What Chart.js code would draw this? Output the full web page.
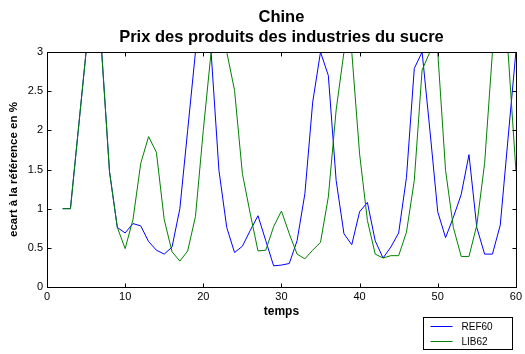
<!DOCTYPE html>
<html>
<head>
<meta charset="utf-8">
<script src="https://cdn.jsdelivr.net/npm/chart.js@4"></script>
<style>
  body { margin: 0; background: #fff; }
  #wrap { position: relative; width: 525px; height: 354px; }
</style>
</head>
<body>
<div id="wrap"><canvas id="graph" width="525" height="354"></canvas></div>
<script>
// pas de temps
var temps = [2, 3, 4, 5, 6, 7, 8, 9, 10, 11, 12, 13, 14, 15, 16, 17, 18, 19, 20, 21,
             22, 23, 24, 25, 26, 27, 28, 29, 30, 31, 32, 33, 34, 35, 36, 37, 38, 39, 40, 41,
             42, 43, 44, 45, 46, 47, 48, 49, 50, 51, 52, 53, 54, 55, 56, 57, 58, 59, 60];

var ref60 = [1.0, 1.0, 2.0, 3, 3, 3, 1.47, 0.76, 0.69, 0.81, 0.78, 0.58, 0.47, 0.42, 0.51, 1.0, 2.0, 3, 3, 3,
             1.49, 0.76, 0.44, 0.52, 0.72, 0.91, 0.59, 0.27, 0.28, 0.30, 0.59, 1.19, 2.36, 3, 2.70, 1.36, 0.68, 0.54, 0.96, 1.08,
             0.59, 0.37, 0.51, 0.69, 1.40, 2.79, 3, 2.0, 0.96, 0.63, 0.89, 1.18, 1.69, 0.76, 0.42, 0.42, 0.79, 1.9, 3];

var lib62 = [1.0, 1.0, 2.0, 3, 3, 3, 1.47, 0.76, 0.49, 0.86, 1.58, 1.92, 1.72, 0.86, 0.45, 0.33, 0.46, 0.9, 2.0, 3,
             3, 3, 2.51, 1.45, 0.94, 0.46, 0.47, 0.77, 0.97, 0.68, 0.42, 0.36, 0.47, 0.57, 1.15, 2.26, 3, 3, 1.7, 0.85,
             0.42, 0.37, 0.40, 0.40, 0.70, 1.36, 2.77, 3, 3, 1.49, 0.76, 0.39, 0.39, 0.79, 1.58, 3, 3, 3, 1.49];

var titres = ['Chine', 'Prix des produits des industries du sucre'];
var xTicks = [0, 10, 20, 30, 40, 50, 60];
var yTicks = [0, 0.5, 1, 1.5, 2, 2.5, 3];

var police = "'Liberation Sans', Arial, sans-serif";

function pts(vals) {
    return temps.map(function (t, i) { return { x: t, y: vals[i] }; });
}

// titre, cadre matlab avec ticks vers l'interieur, legende
var matlabLook = {
    id: 'matlabLook',
    afterDraw: function (chart) {
        var ctx = chart.ctx;
        var a = chart.chartArea;
        var xs = chart.scales.x, ys = chart.scales.y;
        ctx.save();
        ctx.strokeStyle = '#000';
        ctx.lineWidth = 1;
        var L = Math.round(a.left) + 0.5, R = Math.round(a.right) + 0.5;
        var T = Math.round(a.top) + 0.5, B = Math.round(a.bottom) + 0.5;
        ctx.strokeRect(L, T, R - L, B - T);
        var tl = 4;
        ctx.beginPath();
        xTicks.forEach(function (v) {
            var px = Math.round(xs.getPixelForValue(v)) + 0.5;
            ctx.moveTo(px, B); ctx.lineTo(px, B - tl);
            ctx.moveTo(px, T); ctx.lineTo(px, T + tl);
        });
        yTicks.forEach(function (v) {
            var py = Math.round(ys.getPixelForValue(v)) + 0.5;
            ctx.moveTo(L, py); ctx.lineTo(L + tl, py);
            ctx.moveTo(R, py); ctx.lineTo(R - tl, py);
        });
        ctx.stroke();

        // titre
        var cx = (a.left + a.right) / 2;
        ctx.fillStyle = '#000';
        ctx.textAlign = 'center';
        ctx.textBaseline = 'alphabetic';
        ctx.font = 'bold 16.5px ' + police;
        ctx.fillText(titres[0], cx, 21.5);
        ctx.fillText(titres[1], cx, 42);

        // legende
        var lx = 423.5, ly = 317.5, lw = 89, lh = 32;
        ctx.fillStyle = '#fff';
        ctx.fillRect(lx, ly, lw, lh);
        ctx.strokeRect(lx, ly, lw, lh);
        ctx.font = '10px ' + police;
        ctx.textAlign = 'left';
        ctx.textBaseline = 'middle';
        var rows = [chart.data.datasets[0], chart.data.datasets[1]];
        rows.forEach(function (ds, i) {
            var y = Math.round(ly + 8 + i * 15.7) + 0.5;
            ctx.strokeStyle = ds.borderColor;
            ctx.beginPath();
            ctx.moveTo(lx + 7, y); ctx.lineTo(lx + 29, y);
            ctx.stroke();
            ctx.fillStyle = '#000';
            ctx.fillText(ds.label, lx + 38, y + 0.5);
        });
        ctx.restore();
    }
};

var chart = new Chart(document.getElementById('graph'), {
    type: 'line',
    data: {
        datasets: [{
            label: 'REF60',
            data: pts(ref60),
            borderColor: '#0000ff',
            borderWidth: 1,
            pointRadius: 0,
            tension: 0,
            order: 1
        }, {
            label: 'LIB62',
            data: pts(lib62),
            borderColor: '#008000',
            borderWidth: 1,
            pointRadius: 0,
            tension: 0,
            order: 0
        }]
    },
    options: {
        responsive: false,
        animation: false,
        layout: { padding: { top: 52, right: 9, left: 0, bottom: 0 } },
        plugins: {
            legend: { display: false },
            tooltip: { enabled: false }
        },
        scales: {
            x: {
                type: 'linear',
                min: 0, max: 60,
                afterFit: function (s) { s.height = 67; },
                afterBuildTicks: function (s) { s.ticks = xTicks.map(function (v) { return { value: v }; }); },
                grid: { display: false, drawTicks: false },
                border: { display: false },
                ticks: { color: '#000', padding: 3, maxRotation: 0, font: { family: police, size: 11 },
                         callback: function (v) { return String(v); } },
                title: { display: true, text: 'temps', color: '#000', padding: { top: 0, bottom: 35 },
                         font: { family: police, size: 12, weight: 'bold' } }
            },
            y: {
                min: 0, max: 3,
                afterFit: function (s) { s.width = 47; },
                afterBuildTicks: function (s) { s.ticks = yTicks.map(function (v) { return { value: v }; }); },
                grid: { display: false, drawTicks: false },
                border: { display: false },
                ticks: { color: '#000', padding: 4, font: { family: police, size: 11 },
                         callback: function (v) { return String(v); } },
                title: { display: true, text: 'ecart à la référence en %', color: '#000', padding: { top: 7, bottom: 0 },
                         font: { family: police, size: 11.5, weight: 'bold' } }
            }
        }
    },
    plugins: [matlabLook]
});
</script>
</body>
</html>
